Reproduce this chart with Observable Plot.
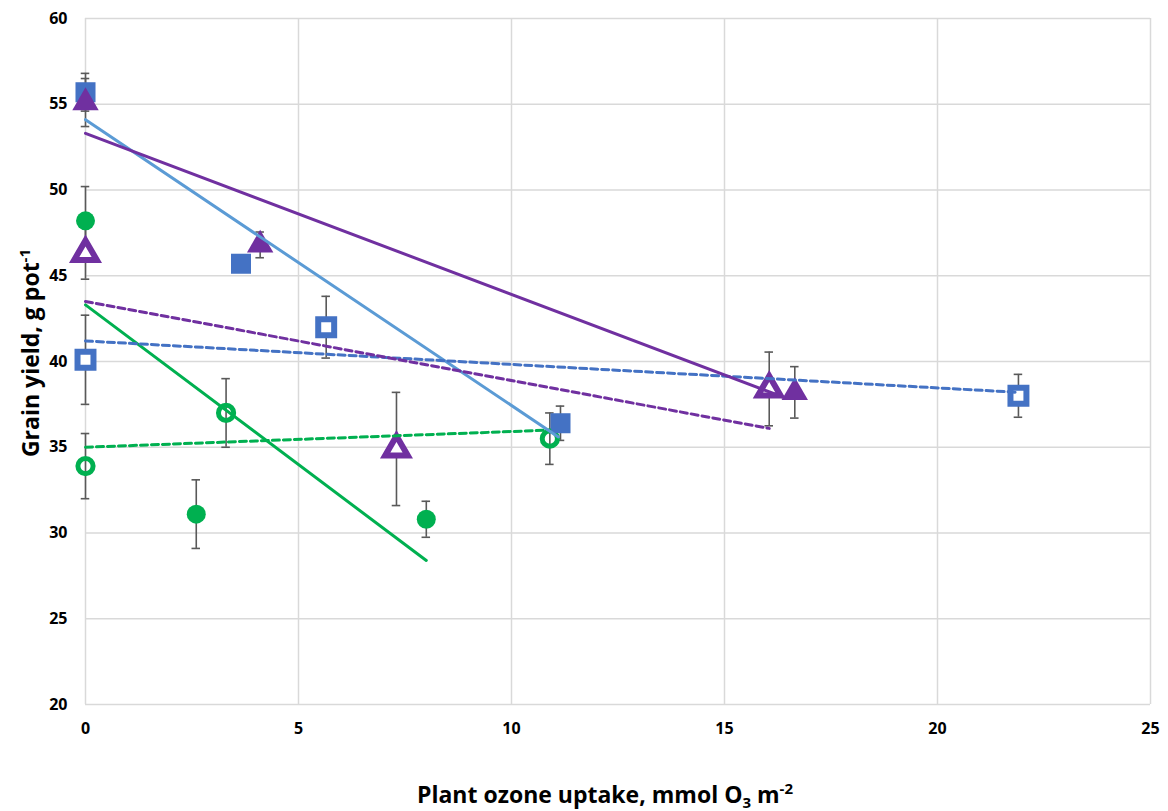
<!DOCTYPE html>
<html><head><meta charset="utf-8">
<script src="https://cdn.jsdelivr.net/npm/d3@7"></script>
<script src="https://cdn.jsdelivr.net/npm/@observablehq/plot@0.6"></script>
<style>body{margin:0;background:#fff}</style>
</head><body><div id="chart"></div>
<script>
const xTicks = [0, 5, 10, 15, 20, 25];
const yTicks = [20, 25, 30, 35, 40, 45, 50, 55, 60];

// Series points: x, y, error (±)
const greenFilledX = [0, 2.6, 8.0];
const greenFilledY = [48.2, 31.1, 30.8];
const greenFilledE = [2.0, 2.0, 1.05];

const greenOpenX = [0, 3.3, 10.9];
const greenOpenY = [33.9, 37.0, 35.5];
const greenOpenE = [1.9, 2.0, 1.5];

const blueFilledX = [0, 3.65, 11.15];
const blueFilledY = [55.7, 45.7, 36.4];
const blueFilledE = [1.1, 0.4, 1.0];

const blueOpenX = [0, 5.65, 21.9];
const blueOpenY = [40.1, 42.0, 38.0];
const blueOpenE = [2.6, 1.8, 1.25];

const purpleFilledX = [0, 4.1, 16.65];
const purpleFilledY = [55.1, 46.8, 38.2];
const purpleFilledE = [1.4, 0.75, 1.5];

const purpleOpenX = [0, 7.3, 16.05];
const purpleOpenY = [46.3, 34.9, 38.4];
const purpleOpenE = [1.5, 3.3, 2.15];

// Trend lines: endpoints [x0, x1], [y0, y1]
const greenSolidX = [0, 8.0],  greenSolidY = [43.3, 28.4];
const greenDashX = [0, 10.9],  greenDashY = [35.0, 36.0];
const blueSolidX = [0, 11.1],  blueSolidY = [54.1, 35.6];
const blueDashX = [0, 21.9],   blueDashY = [41.2, 38.2];
const purpleSolidX = [0, 16.4], purpleSolidY = [53.3, 37.9];
const purpleDashX = [0, 16.05], purpleDashY = [43.5, 36.1];

const GREEN = "#00B050", PURPLE = "#7030A0", BLUE = "#4472C4", LBLUE = "#5B9BD5", ERR = "#595959";

const rows = (xs, ys, es) => xs.map((x, i) => ({x, y: ys[i], e: es[i]}));
const pts = (xs, ys) => xs.map((x, i) => ({x, y: ys[i]}));

const series = [
  {d: rows(greenFilledX, greenFilledY, greenFilledE), sym: "circle", color: GREEN, open: false},
  {d: rows(greenOpenX, greenOpenY, greenOpenE), sym: "circle", color: GREEN, open: true},
  {d: rows(blueFilledX, blueFilledY, blueFilledE), sym: "square", color: BLUE, open: false},
  {d: rows(blueOpenX, blueOpenY, blueOpenE), sym: "square", color: BLUE, open: true},
  {d: rows(purpleFilledX, purpleFilledY, purpleFilledE), sym: "triangle", color: PURPLE, open: false},
  {d: rows(purpleOpenX, purpleOpenY, purpleOpenE), sym: "triangle", color: PURPLE, open: true}
];
const allRows = series.flatMap(s => s.d);

const trends = [
  {d: pts(greenSolidX, greenSolidY), color: GREEN, dash: null},
  {d: pts(greenDashX, greenDashY), color: GREEN, dash: "7,4"},
  {d: pts(blueSolidX, blueSolidY), color: LBLUE, dash: null},
  {d: pts(blueDashX, blueDashY), color: BLUE, dash: "7,4"},
  {d: pts(purpleSolidX, purpleSolidY), color: PURPLE, dash: null},
  {d: pts(purpleDashX, purpleDashY), color: PURPLE, dash: "7,4"}
];

const rFor = (sym, open) => {
  if (sym === "circle") return open ? 7.6 : 9.5;
  if (sym === "square") return open ? 9.0 : 11.3;
  return open ? 8.4 : 9.8;
};
const swFor = (sym) => sym === "circle" ? 5 : 6;

const marks = [
  Plot.gridX(xTicks, {stroke: "#d9d9d9", strokeOpacity: 1, strokeWidth: 1.5}),
  Plot.gridY(yTicks, {stroke: "#d9d9d9", strokeOpacity: 1, strokeWidth: 1.5}),
  Plot.axisX(xTicks, {tickSize: 0, tickPadding: 18, label: null, fontWeight: "bold"}),
  Plot.axisY(yTicks, {tickSize: 0, tickPadding: 18, label: null, fontWeight: "bold"}),
  Plot.ruleX(allRows, {x: "x", y1: d => d.y - d.e, y2: d => d.y + d.e, stroke: ERR, strokeWidth: 1.6}),
  Plot.ruleY(allRows, {y: d => d.y - d.e, x1: d => d.x - 0.1, x2: d => d.x + 0.1, stroke: ERR, strokeWidth: 1.6}),
  Plot.ruleY(allRows, {y: d => d.y + d.e, x1: d => d.x - 0.1, x2: d => d.x + 0.1, stroke: ERR, strokeWidth: 1.6}),
  ...series.map(s => Plot.dot(s.d, {
    x: "x", y: "y", symbol: () => s.sym, r: rFor(s.sym, s.open),
    fill: s.open ? (s.sym === "circle" ? "none" : "white") : s.color,
    stroke: s.open ? s.color : "none",
    strokeWidth: s.open ? swFor(s.sym) : 0,
    strokeLinejoin: "miter"
  })),
  ...trends.map(t => Plot.line(t.d, {x: "x", y: "y", stroke: t.color, strokeWidth: 3, strokeDasharray: t.dash}))
];

const chart = Plot.plot({
  width: 1168, height: 811,
  marginLeft: 85, marginRight: 18, marginTop: 18, marginBottom: 107,
  x: {domain: [0, 25], ticks: xTicks},
  y: {domain: [20, 60], ticks: yTicks},
  symbol: {type: "identity"},
  style: {fontFamily: "'Open Sans', sans-serif", fontSize: "16px", color: "#000", background: "#fff", overflow: "visible"},
  marks
});

const svg = d3.select(chart);
const xt = svg.append("text")
  .attr("x", 605).attr("y", 803).attr("text-anchor", "middle")
  .style("font-size", "23px").style("font-weight", "bold").attr("fill", "#000");
xt.append("tspan").text("Plant ozone uptake, mmol O");
xt.append("tspan").text("3").style("font-size", "15px").attr("dy", 5);
xt.append("tspan").text(" m").attr("dy", -5);
xt.append("tspan").text("-2").style("font-size", "15px").attr("dy", -9);

const yt = svg.append("text")
  .attr("transform", "translate(39,353) rotate(-90)").attr("text-anchor", "middle")
  .style("font-size", "23px").style("font-weight", "bold").attr("fill", "#000");
yt.append("tspan").text("Grain yield, g pot");
yt.append("tspan").text("-1").style("font-size", "15px").attr("dy", -9);

document.getElementById("chart").appendChild(chart);
</script>
</body></html>
